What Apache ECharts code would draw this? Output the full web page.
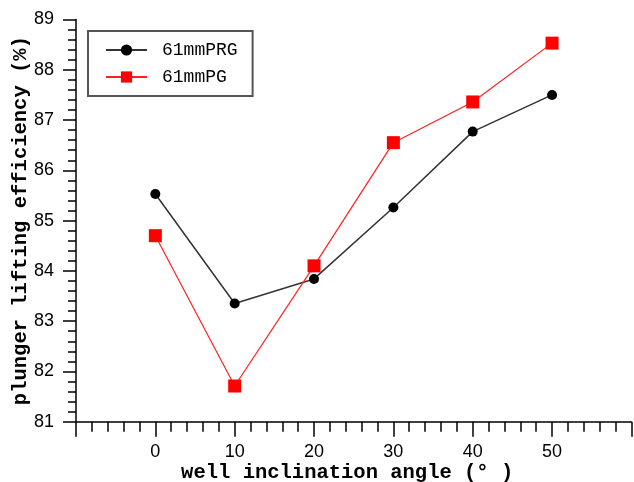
<!DOCTYPE html>
<html>
<head>
<meta charset="utf-8">
<script src="https://cdn.jsdelivr.net/npm/echarts@6/dist/echarts.min.js"></script>
<style>html,body{margin:0;padding:0;background:#fff;}#c{width:634px;height:482px;}</style>
</head>
<body>
<div id="c"></div>
<script>
const angles = [0, 10, 20, 30, 40, 50];
const prg = [85.53, 83.35, 83.84, 85.26, 86.77, 87.50];
const pg = [84.70, 81.71, 84.10, 86.55, 87.36, 88.53];
const seriesNames = ['61mmPRG', '61mmPG'];
const xTitle = 'well inclination angle (° )';
const yTitle = 'plunger lifting efficiency (%)';

const chart = echarts.init(document.getElementById('c'));
const titleFont = {fontFamily: 'Liberation Mono', fontWeight: 'bold', fontSize: 20.5, color: '#000'};
chart.setOption({
  animation: false,
  backgroundColor: '#fff',
  grid: {left: 76, right: 2.6, top: 19.5, bottom: 60.3, outerBoundsMode: 'none', containLabel: false},
  legend: {
    orient: 'vertical', left: 88, top: 31,
    borderColor: '#555', borderWidth: 2,
    padding: [10, 15, 10, 17],
    itemWidth: 41, itemHeight: 14, itemGap: 9,
    textStyle: {fontFamily: 'Liberation Mono', fontSize: 18, color: '#000', padding: [0, 0, 0, 10]},
    data: seriesNames
  },
  xAxis: {
    type: 'value', min: -10, max: 60, interval: 10,
    name: xTitle, nameLocation: 'middle', nameGap: 41, nameMoveOverlap: false,
    nameTextStyle: Object.assign({}, titleFont, {padding: [0, 13, 0, 0]}),
    axisLine: {onZero: false, lineStyle: {color: '#000', width: 1.5}},
    axisTick: {length: 15, lineStyle: {color: '#000', width: 1.5}},
    minorTick: {show: true, splitNumber: 5, length: 10, lineStyle: {color: '#000', width: 1.5}},
    splitLine: {show: false},
    axisLabel: {margin: 21, fontFamily: 'Liberation Sans', fontSize: 18, color: '#000',
      formatter: v => (v < 0 || v > 50) ? '' : String(v)}
  },
  yAxis: {
    type: 'value', min: 81, max: 89, interval: 1,
    name: yTitle, nameLocation: 'middle', nameGap: 45, nameMoveOverlap: false, nameTextStyle: titleFont,
    axisLine: {onZero: false, lineStyle: {color: '#000', width: 1.5}},
    axisTick: {length: 13, lineStyle: {color: '#000', width: 1.5}},
    minorTick: {show: true, splitNumber: 5, length: 8, lineStyle: {color: '#000', width: 1.5}},
    splitLine: {show: false},
    axisLabel: {margin: 22, fontFamily: 'Liberation Sans', fontSize: 18, color: '#000'}
  },
  series: [
    {
      name: seriesNames[0], type: 'line',
      data: angles.map((a, i) => [a, prg[i]]),
      symbol: 'circle', symbolSize: 10,
      itemStyle: {color: '#000'},
      lineStyle: {color: '#333', width: 1.5}
    },
    {
      name: seriesNames[1], type: 'line',
      data: angles.map((a, i) => [a, pg[i]]),
      symbol: 'rect', symbolSize: 13,
      itemStyle: {color: '#ff0000'},
      lineStyle: {color: '#ff2020', width: 1.2}
    }
  ]
});
</script>
</body>
</html>
